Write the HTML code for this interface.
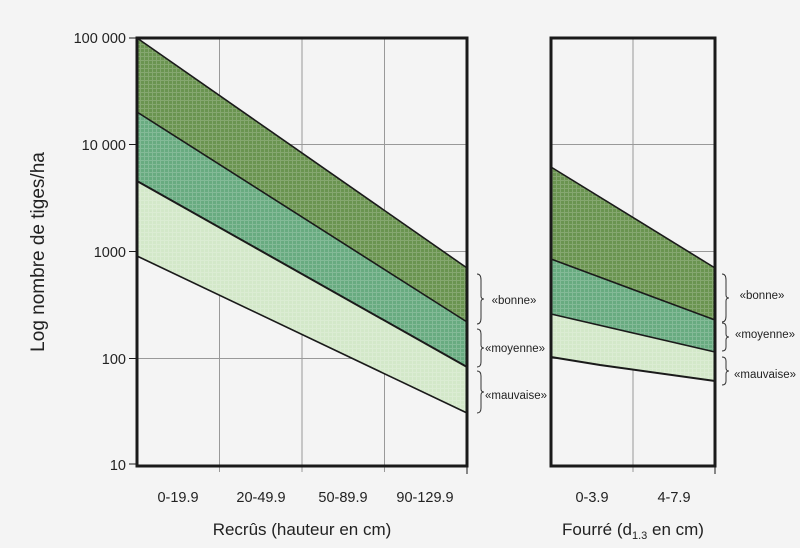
<!DOCTYPE html>
<html><head><meta charset="utf-8"><style>
html,body{margin:0;padding:0;background:#f4f4f4;}
svg{display:block;}
text{font-family:"Liberation Sans",sans-serif;fill:#222;}
</style></head><body>
<svg width="800" height="548" viewBox="0 0 800 548" xmlns="http://www.w3.org/2000/svg">
<defs>
<pattern id="grid" width="4" height="4" patternUnits="userSpaceOnUse">
<path d="M0 0.5H4M0.5 0V4" stroke="#ffffff" stroke-opacity="0.18" stroke-width="1"/>
</pattern>
</defs>
<rect width="800" height="548" fill="#f4f4f4"/>
<!-- left plot -->
<rect x="137" y="38" width="330" height="428" fill="#f4f4f4"/>
<g stroke="#999" stroke-width="1">
<line x1="137" y1="144.5" x2="467" y2="144.5"/>
<line x1="137" y1="251.5" x2="467" y2="251.5"/>
<line x1="137" y1="358.5" x2="467" y2="358.5"/>
<line x1="219.5" y1="38" x2="219.5" y2="472"/>
<line x1="302" y1="38" x2="302" y2="472"/>
<line x1="384.5" y1="38" x2="384.5" y2="472"/>
</g>
<polygon points="137,38 467,268 467,322 137,112" fill="#6a9450"/>
<polygon points="137,112 467,322 467,367 137,181" fill="#68ab80"/>
<polygon points="137,181 467,367 467,413 137,256" fill="#d3e8c9"/>
<polygon points="137,38 467,268 467,413 137,256" fill="url(#grid)"/>
<g stroke="#1a1a1a" stroke-width="1.6" fill="none">
<line x1="137" y1="38" x2="467" y2="268"/>
<line x1="137" y1="112" x2="467" y2="322"/>
<line x1="137" y1="181" x2="467" y2="367" stroke-width="2"/>
<line x1="137" y1="256" x2="467" y2="413"/>
</g>
<rect x="137" y="38" width="330" height="428" fill="none" stroke="#1a1a1a" stroke-width="3"/>
<g stroke="#1a1a1a" stroke-width="1">
<line x1="129" y1="38" x2="137" y2="38"/><line x1="129" y1="144.5" x2="137" y2="144.5"/>
<line x1="129" y1="251.5" x2="137" y2="251.5"/><line x1="129" y1="358.5" x2="137" y2="358.5"/>
<line x1="129" y1="464" x2="137" y2="464"/>
<line x1="467" y1="466" x2="467" y2="474"/>
</g>
<g font-size="14.5" text-anchor="end">
<text x="126" y="43">100 000</text>
<text x="126" y="150">10 000</text>
<text x="126" y="257">1000</text>
<text x="126" y="364">100</text>
<text x="126" y="470">10</text>
</g>
<text transform="translate(44,252) rotate(-90)" font-size="19" text-anchor="middle" fill="#333">Log nombre de tiges/ha</text>
<g font-size="14.5" text-anchor="middle">
<text x="178" y="502">0-19.9</text>
<text x="261" y="502">20-49.9</text>
<text x="343" y="502">50-89.9</text>
<text x="425" y="502">90-129.9</text>
<text x="302" y="535" font-size="17" fill="#333">Recrûs (hauteur en cm)</text>
<text x="592" y="502">0-3.9</text>
<text x="674" y="502">4-7.9</text>
<text x="633" y="535" font-size="17" fill="#333">Fourré (d<tspan font-size="11" dy="4">1.3</tspan><tspan dy="-4"> en cm)</tspan></text>
</g>
<!-- right plot -->
<g stroke="#999" stroke-width="1">
<line x1="551" y1="144.5" x2="715" y2="144.5"/>
<line x1="551" y1="251.5" x2="715" y2="251.5"/>
<line x1="551" y1="358.5" x2="715" y2="358.5"/>
<line x1="633" y1="38" x2="633" y2="472"/>
</g>
<polygon points="551,167 715,268 715,320 551,259" fill="#6a9450"/>
<polygon points="551,259 715,320 715,352 551,314" fill="#68ab80"/>
<polygon points="551,314 715,352 715,381 551,357" fill="#d3e8c9"/>
<polygon points="551,167 715,268 715,381 551,357" fill="url(#grid)"/>
<g stroke="#1a1a1a" stroke-width="1.6" fill="none">
<line x1="551" y1="167" x2="715" y2="268"/>
<line x1="551" y1="259" x2="715" y2="320"/>
<line x1="551" y1="314" x2="715" y2="352"/>
<path d="M551,357 L600,365 L715,381" stroke-width="2"/>
</g>
<rect x="551" y="38" width="164" height="428" fill="none" stroke="#1a1a1a" stroke-width="3"/>
<line x1="715" y1="466" x2="715" y2="474" stroke="#1a1a1a"/>
<!-- braces -->
<g stroke="#333" stroke-width="1" fill="none">
<path d="M477,274 q4,0 4,6 v16 q0,3 3,3 q-3,0 -3,3 v16 q0,6 -4,6"/>
<path d="M477,329 q4,0 4,5 v11 q0,3 3,3 q-3,0 -3,3 v11 q0,5 -4,5"/>
<path d="M477,371 q4,0 4,5 v13 q0,3 3,3 q-3,0 -3,3 v13 q0,5 -4,5"/>
<path d="M722,274 q4,0 4,6 v15 q0,3 3,3 q-3,0 -3,3 v15 q0,6 -4,6"/>
<path d="M722,323 q4,0 4,4 v7 q0,3 3,3 q-3,0 -3,3 v7 q0,4 -4,4"/>
<path d="M722,357 q4,0 4,4 v7 q0,3 3,3 q-3,0 -3,3 v7 q0,4 -4,4"/>
</g>
<g font-size="11.5" text-anchor="middle" fill="#333">
<text x="514" y="304">«bonne»</text>
<text x="515" y="352">«moyenne»</text>
<text x="516" y="399">«mauvaise»</text>
<text x="762" y="299">«bonne»</text>
<text x="765" y="338">«moyenne»</text>
<text x="765" y="378">«mauvaise»</text>
</g>
</svg>
</body></html>
